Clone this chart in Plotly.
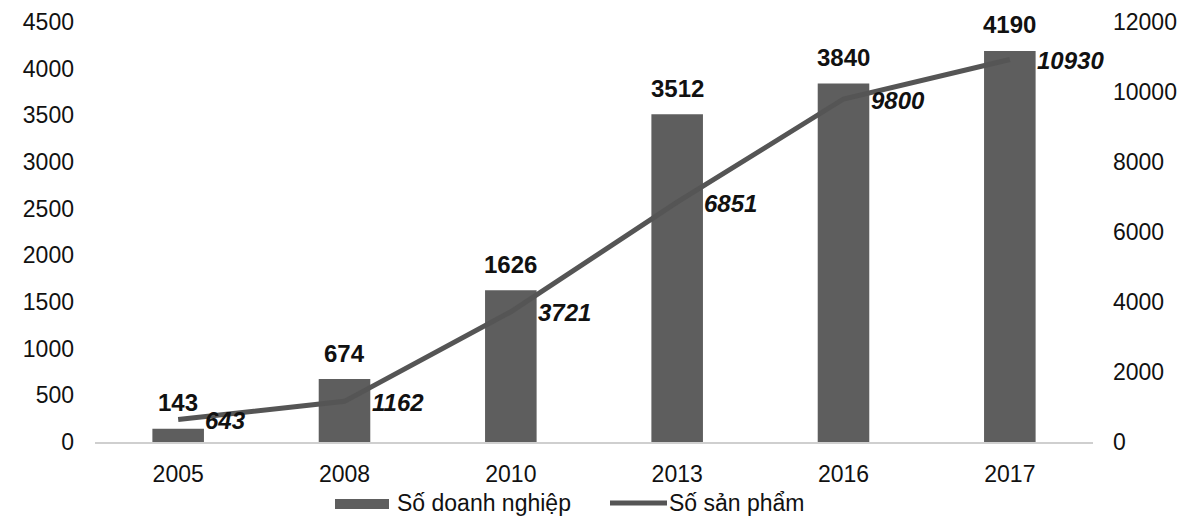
import plotly.graph_objects as go

years = ["2005", "2008", "2010", "2013", "2016", "2017"]
so_doanh_nghiep = [143, 674, 1626, 3512, 3840, 4190]
so_san_pham = [643, 1162, 3721, 6851, 9800, 10930]
left_ticks = list(range(0, 4501, 500))
right_ticks = list(range(0, 12001, 2000))
legend_names = ["Số doanh nghiệp", "Số sản phẩm"]

FONT = "Liberation Sans, Arial, sans-serif"
BAR_COLOR = "#5e5e5e"
LINE_COLOR = "#555555"
TEXT = "#111111"

# page body has an 8px margin; figure is sized to fill the rest of the window
OFF = 8
W, H = 1190 - OFF, 520 - OFF
PL, PR, PT, PB = 95 - OFF, 1093 - OFF, 22 - OFF, 442 - OFF

def px(x):
    return (x - OFF - PL) / (PR - PL)

def py(y):
    return (PB - (y - OFF)) / (PB - PT)

fig = go.Figure()
fig.add_trace(go.Bar(
    x=years, y=so_doanh_nghiep, name=legend_names[0],
    marker=dict(color=BAR_COLOR, line=dict(width=0)),
    width=0.31, showlegend=False,
))
fig.add_trace(go.Scatter(
    x=years, y=so_san_pham, name=legend_names[1], yaxis="y2",
    mode="lines", line=dict(color=LINE_COLOR, width=5), showlegend=False,
))
for i, v in enumerate(so_doanh_nghiep):
    fig.add_annotation(
        x=i, y=v, xref="x", yref="y", text=f"<b>{v}</b>",
        showarrow=False, xanchor="center", yanchor="middle", yshift=26,
        font=dict(family=FONT, size=24, color=TEXT),
    )
for i, v in enumerate(so_san_pham):
    fig.add_annotation(
        x=i, y=v, xref="x", yref="y2", text=f"<b><i>{v}</i></b>",
        showarrow=False, xanchor="left", yanchor="middle",
        xshift=25, yshift=-1,
        font=dict(family=FONT, size=24, color=TEXT),
    )

# custom legend (paper coordinates)
fig.add_shape(type="rect", xref="paper", yref="paper",
              x0=px(335), x1=px(389), y0=py(509), y1=py(499),
              fillcolor=BAR_COLOR, line=dict(width=0))
fig.add_shape(type="line", xref="paper", yref="paper",
              x0=px(610), x1=px(667), y0=py(503), y1=py(503),
              line=dict(color=LINE_COLOR, width=5))
fig.add_annotation(x=px(395), y=py(503), xref="paper", yref="paper",
                   text=legend_names[0], showarrow=False, xanchor="left",
                   yanchor="middle", font=dict(family=FONT, size=23, color=TEXT))
fig.add_annotation(x=px(667), y=py(503), xref="paper", yref="paper",
                   text=legend_names[1], showarrow=False, xanchor="left",
                   yanchor="middle", font=dict(family=FONT, size=23, color=TEXT))

fig.update_layout(
    width=W, height=H,
    margin=dict(l=PL, r=W - PR, t=PT, b=H - PB, autoexpand=False),
    paper_bgcolor="white", plot_bgcolor="white",
    font=dict(family=FONT, size=23, color=TEXT),
    showlegend=False,
    xaxis=dict(type="category", range=[-0.5, len(years) - 0.5], showgrid=False,
               showline=True, linecolor="#cfcfcf", linewidth=1.5, ticks="",
               tickfont=dict(size=23), automargin=False, ticklabelstandoff=11),
    yaxis=dict(range=[0, 4500], tickvals=left_ticks, showgrid=False, zeroline=False,
               showline=False, ticks="", tickfont=dict(size=23), tickformat="d",
               automargin=False, ticklabelstandoff=20),
    yaxis2=dict(range=[0, 12000], tickvals=right_ticks, overlaying="y", side="right",
                showgrid=False, zeroline=False, showline=False, ticks="",
                tickfont=dict(size=23), tickformat="d", automargin=False,
                ticklabelstandoff=19),
)

fig.write_html("out.html")
